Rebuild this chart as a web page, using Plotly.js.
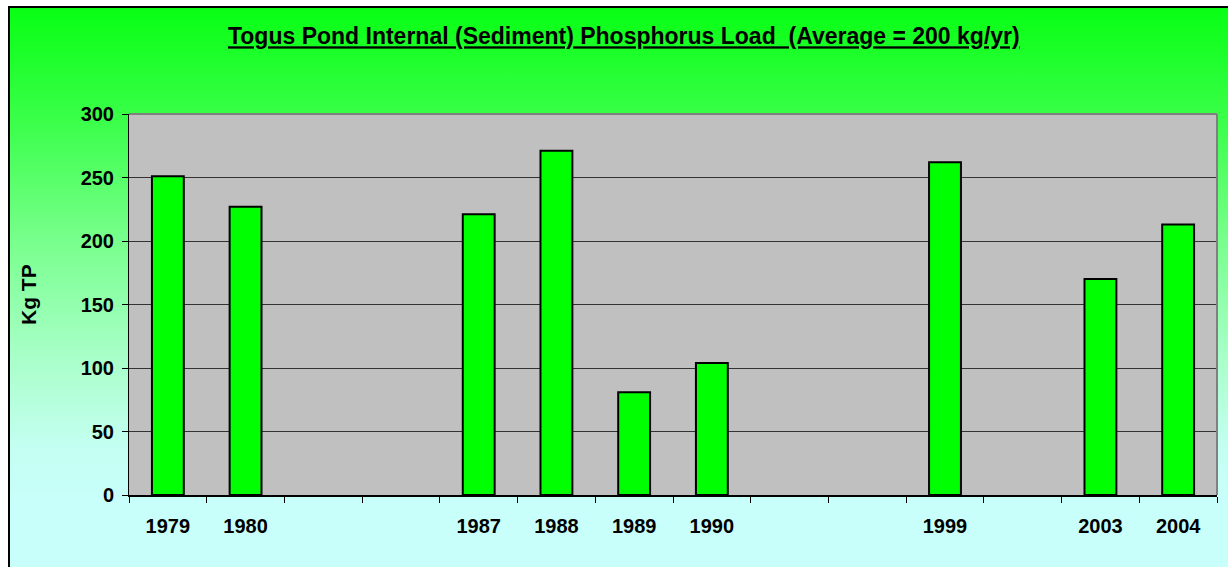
<!DOCTYPE html>
<html>
<head>
<meta charset="utf-8">
<script src="https://cdn.plot.ly/plotly-3.0.1.min.js"></script>
<style>
  html, body { margin: 0; padding: 0; background: #ffffff; width: 1228px; height: 567px; overflow: hidden; }
  #frame {
    position: absolute; left: 8px; top: 6px; width: 1240px; height: 580px;
    border-left: 2px solid #000; border-top: 2px solid #000;
    background: linear-gradient(to bottom, #08ff14 0%, #3cff4c 20%, #78ff8c 40%, #a8ffc8 60%, #c4fff2 76%, #c8fffa 85%, #c8fffa 100%);
  }
  #chart { position: absolute; left: 0; top: 0; width: 1228px; height: 567px; }
</style>
</head>
<body>
<div id="frame"></div>
<div id="chart"></div>
<script>
// Categories (blank slots are unlabeled gaps in the original chart)
const categories = ['1979', '1980', ' ', '  ', '1987', '1988', '1989', '1990', '   ', '    ', '1999', '     ', '2003', '2004'];
const loadKgTP   = [251, 227, null, null, 221, 271, 81, 104, null, null, 262, null, 170, 213];
const yTicks     = [0, 50, 100, 150, 200, 250, 300];
const yTitle     = 'Kg TP';
const chartTitle = 'Togus Pond Internal (Sediment) Phosphorus Load \u00a0(Average = 200 kg/yr)';

const font = 'Liberation Sans, Arial, sans-serif';

const trace = {
  type: 'bar',
  x: categories,
  y: loadKgTP,
  width: 0.41,
  marker: { color: '#00ff00', line: { color: '#000000', width: 2 } },
  hoverinfo: 'x+y'
};

const layout = {
  width: 1228, height: 567,
  paper_bgcolor: 'rgba(0,0,0,0)',
  plot_bgcolor: '#c0c0c0',
  margin: { l: 129, r: 11, t: 114, b: 72 },
  showlegend: false,
  title: {
    text: '<b><u>' + chartTitle + '</u></b>',
    font: { family: font, size: 23, color: '#000' },
    x: 0.508, xanchor: 'center', y: 0.936, yanchor: 'middle'
  },
  xaxis: {
    type: 'category',
    tickson: 'boundaries',
    ticks: 'outside', ticklen: 6, tickcolor: '#000', tickwidth: 1,
    showline: true, linecolor: '#000', linewidth: 2,
    showgrid: false,
    tickfont: { family: font, size: 20, color: '#000', weight: 'bold' },
    ticklabelstandoff: 12,
    fixedrange: true
  },
  yaxis: {
    range: [0, 300],
    tickvals: yTicks,
    ticks: 'outside', ticklen: 6, tickcolor: '#000', tickwidth: 1,
    showline: true, linecolor: '#000', linewidth: 1,
    showgrid: true, gridcolor: '#333333', gridwidth: 1,
    zeroline: false,
    tickfont: { family: font, size: 20, color: '#000', weight: 'bold' },
    ticklabelstandoff: 4,
    fixedrange: true
  },
  annotations: [
    {
      text: '<b>' + yTitle + '</b>', textangle: -90,
      xref: 'paper', yref: 'paper', x: (28 - 129) / 1088, y: (495 - 295) / 381,
      xanchor: 'center', yanchor: 'middle', showarrow: false,
      font: { family: font, size: 21, color: '#000' }
    }
  ],
  shapes: [
    { type: 'line', xref: 'paper', yref: 'paper', x0: 0, x1: 1, y0: 1, y1: 1, line: { color: '#808080', width: 2 } },
    { type: 'line', xref: 'paper', yref: 'paper', x0: 1, x1: 1, y0: 0, y1: 1, line: { color: '#808080', width: 2 } }
  ]
};

Plotly.newPlot('chart', [trace], layout, { displayModeBar: false, staticPlot: true });
</script>
</body>
</html>
